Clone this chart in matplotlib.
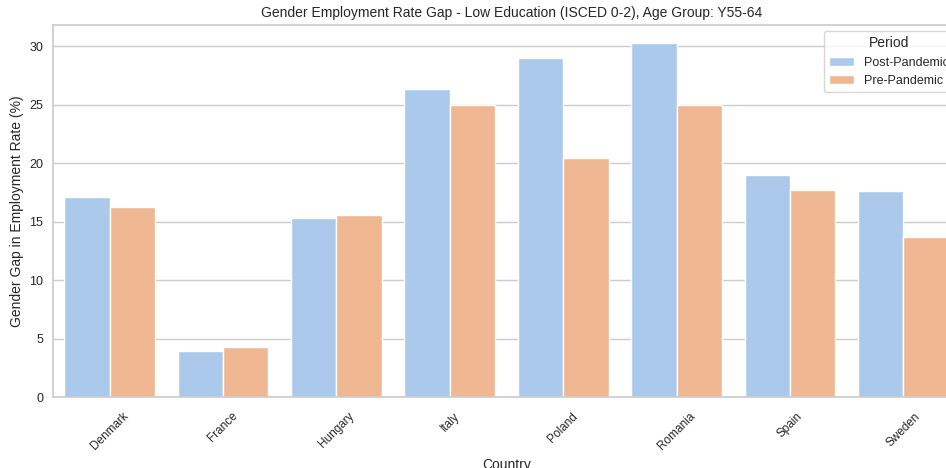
import matplotlib
matplotlib.use("Agg")
import matplotlib.pyplot as plt
import seaborn as sns
import pandas as pd

# data
countries = ["Denmark", "France", "Hungary", "Italy", "Poland", "Romania", "Spain", "Sweden"]
post_pandemic = [17.1, 3.95, 15.3, 26.3, 29.0, 30.3, 19.0, 17.6]
pre_pandemic = [16.25, 4.25, 15.6, 25.0, 20.45, 25.0, 17.7, 13.7]
periods = ["Post-Pandemic", "Pre-Pandemic"]

df = pd.DataFrame({
    "Country": countries * 2,
    "Period": [periods[0]] * len(countries) + [periods[1]] * len(countries),
    "Gap": post_pandemic + pre_pandemic,
})

sns.set_theme(style="whitegrid")
plt.rcParams["font.family"] = ["Liberation Sans", "DejaVu Sans"]

fig = plt.figure(figsize=(9.46, 4.68), dpi=100)
# original figure was wider; the right edge is cut off
ax = fig.add_axes([53 / 946, 1 - 397 / 468, 907 / 946, 372 / 468])

sns.barplot(data=df, x="Country", y="Gap", hue="Period", palette="pastel", ax=ax)

ax.set_title("Gender Employment Rate Gap - Low Education (ISCED 0-2), Age Group: Y55-64",
             fontsize=10, x=0.506)
ax.set_xlabel("Country", fontsize=10)
ax.set_ylabel("Gender Gap in Employment Rate (%)", fontsize=10, labelpad=4)
ax.tick_params(axis="y", labelsize=9, length=0, pad=7)
ax.tick_params(axis="x", labelsize=8.5)
plt.setp(ax.get_xticklabels(), rotation=45)
ax.legend(title="Period", loc="upper right", fontsize=9, title_fontsize=10)

fig.savefig("out.png", dpi=100)
